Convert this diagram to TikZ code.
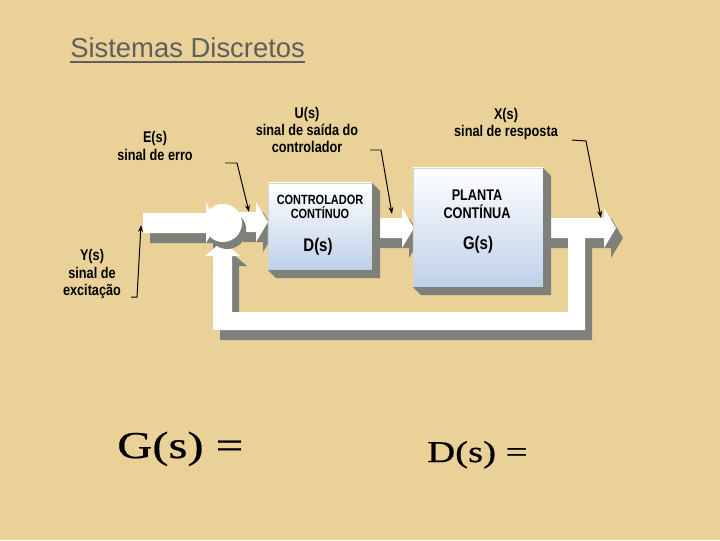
\documentclass[tikz,border=0pt]{standalone}
\usepackage{fontspec}
\setmainfont{Liberation Sans}
\newfontfamily\narrowfont[FakeStretch=0.82]{Liberation Sans}
\newfontfamily\formulafont[FakeStretch=1.28, FakeBold=0.6]{Liberation Serif}
\usepackage{xcolor}
\usepackage{tikz}
\usetikzlibrary{shapes.geometric, positioning, arrows.meta, shadows}

\definecolor{paper}{RGB}{234,209,152}
\definecolor{extrude}{RGB}{128,128,122}
\definecolor{boxblue}{RGB}{190,208,232}
\definecolor{titlegray}{RGB}{95,95,95}

% block arrow pointing right: start x, tip x, centre y
\newcommand{\blockpath}[3]{(#1,{#3-10}) -- ({#2-12},{#3-10}) -- ({#2-12},{#3-20}) -- (#2,#3) -- ({#2-12},{#3+20}) -- ({#2-12},{#3+10}) -- (#1,{#3+10}) -- cycle}
% feedback loop back to the summing point
\newcommand{\looppath}{(568,236) -- (585,236) -- (585,330) -- (213,330) -- (213,256) -- (205,256) -- (222.5,241) -- (240,256) -- (232,256) -- (232,312) -- (568,312) -- cycle}

\begin{document}
\begin{tikzpicture}[x=0.025cm, y=-0.025cm,
    box/.style={draw=gray!35, rectangle, top color=white, bottom color=boxblue, outer sep=0pt, inner sep=0pt},
    boxtext/.style={align=center, font=\narrowfont\bfseries\fontsize{9.5}{10.5}\selectfont},
    lbl/.style={align=center, font=\narrowfont\bfseries\fontsize{11}{12.2}\selectfont},
    arrow/.style={->, >={Stealth[length=5pt, width=3.5pt]}, line width=0.7pt},
    formula/.style={anchor=base west, inner sep=0pt}
]
    \useasboundingbox (0,0) rectangle (720,540);
    \fill[paper] (0,0) rectangle (720,540);

    % title
    \node[anchor=base west, inner sep=0pt, text=titlegray, font=\fontsize{19.5}{23}\selectfont] (title) at (70,57) {Sistemas Discretos};
    \draw[titlegray, line width=1.5pt] ([yshift=-3.6pt]title.base west) -- ([yshift=-3.6pt]title.base east);

    % signal bands: shadows first, then the white faces
    \fill[extrude, shift={(7,10)}] \blockpath{143}{218}{223} \blockpath{236}{268}{222}
        \blockpath{370}{414}{228} \blockpath{540}{616}{228} \looppath;
    \fill[white] \blockpath{143}{218}{223} \blockpath{236}{268}{222}
        \blockpath{370}{414}{228} \blockpath{540}{616}{228} \looppath;

    % summing point
    \node[circle, fill=white, minimum size=0.95cm, inner sep=0pt,
          drop shadow={shadow xshift=3pt, shadow yshift=-5pt, opacity=1, fill=extrude}] (sum) at (223,223) {};

    % blocks
    \node[box, minimum width=2.6cm, minimum height=2.175cm] (ctrl) at (320,226.5) {};
    \fill[extrude] (ctrl.south west) -- ++(8,8) -- ([shift={(8,8)}]ctrl.south east) -- ([shift={(8,8)}]ctrl.north east) -- (ctrl.north east) -- (ctrl.south east) -- cycle;
    \node[boxtext] (ctrlname) at (320,207) {CONTROLADOR\\CONTÍNUO};
    \node[boxtext, font=\narrowfont\bfseries\fontsize{13}{14}\selectfont] (ctrlfn) at (318,247) {D(s)};

    \node[box, minimum width=3.25cm, minimum height=2.975cm] (plant) at (478,227.5) {};
    \fill[extrude] (plant.south west) -- ++(8,8) -- ([shift={(8,8)}]plant.south east) -- ([shift={(8,8)}]plant.north east) -- (plant.north east) -- (plant.south east) -- cycle;
    \node[boxtext, font=\narrowfont\bfseries\fontsize{11}{12.5}\selectfont] (plantname) at (477,204) {PLANTA\\CONTÍNUA};
    \node[boxtext, font=\narrowfont\bfseries\fontsize{13}{14}\selectfont] (plantfn) at (478,245) {G(s)};

    % signal names
    \node[lbl] (uname) at (307,130) {U(s)\\sinal de saída do\\controlador};
    \node[lbl] (ename) at (155,146) {E(s)\\sinal de erro};
    \node[lbl] (xname) at (506,124) {X(s)\\sinal de resposta};
    \node[lbl] (yname) at (92,274) {Y(s)\\sinal de\\excitação};

    \coordinate (eFrom) at (225,163);
    \coordinate (eTo) at (249,212);
    \coordinate (uFrom) at (370,150);
    \coordinate (uTo) at (392,214);
    \coordinate (xFrom) at (572,140);
    \coordinate (xTo) at (601,218);
    \coordinate (yFrom) at (131,297);
    \coordinate (yTo) at (141,225);
    \draw[arrow] (eFrom) -- ++(12,0) -- (eTo);
    \draw[arrow] (uFrom) -- ++(11,0) -- (uTo);
    \draw[arrow] (xFrom) -- ++(14,1) -- (xTo);
    \draw[arrow] (yFrom) -- ++(6,0) -- (yTo);

    % transfer functions
    \node[formula, font=\formulafont\fontsize{27}{30}\selectfont] (gdef) at (117,458) {G(s) =};
    \node[formula, font=\formulafont\fontsize{21.5}{24}\selectfont] (ddef) at (427,462) {D(s) =};
\end{tikzpicture}
\end{document}
